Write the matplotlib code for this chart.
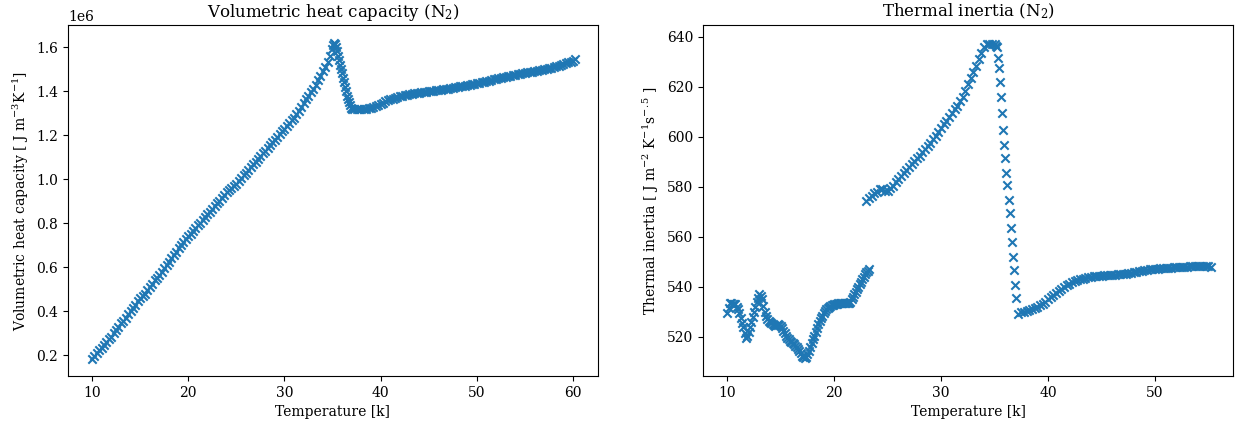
"""Volumetric heat capacity and thermal inertia of solid N2 vs temperature."""
import matplotlib
matplotlib.use("Agg")
import matplotlib.pyplot as plt  # noqa: E402

plt.rcParams["font.family"] = "serif"
plt.rcParams["font.serif"] = ["DejaVu Serif"]
plt.rcParams["mathtext.fontset"] = "dejavuserif"

# volumetric heat capacity [1e6 J m^-3 K^-1]
temp_vhc = [
    10.0, 10.25, 10.5, 10.75, 11.0, 11.25, 11.5, 11.75, 12.0, 12.25,
    12.5, 12.75, 13.0, 13.25, 13.5, 13.75, 14.0, 14.25, 14.5, 14.75,
    15.0, 15.25, 15.5, 15.75, 16.0, 16.25, 16.5, 16.75, 17.0, 17.25,
    17.5, 17.75, 18.0, 18.25, 18.5, 18.75, 19.0, 19.25, 19.5, 19.75,
    20.0, 20.25, 20.5, 20.75, 21.0, 21.25, 21.5, 21.75, 22.0, 22.25,
    22.5, 22.75, 23.0, 23.25, 23.5, 23.75, 24.0, 24.25, 24.5, 24.75,
    25.0, 25.25, 25.5, 25.75, 26.0, 26.25, 26.5, 26.75, 27.0, 27.25,
    27.5, 27.75, 28.0, 28.25, 28.5, 28.75, 29.0, 29.25, 29.5, 29.75,
    30.0, 30.25, 30.5, 30.75, 31.0, 31.25, 31.5, 31.75, 32.0, 32.25,
    32.5, 32.75, 33.0, 33.25, 33.5, 33.75, 34.0, 34.25, 34.5, 34.75,
    35.0, 35.1, 35.2, 35.3, 35.4, 35.5, 35.6, 35.7, 35.8, 35.9,
    36.0, 36.1, 36.2, 36.3, 36.4, 36.5, 36.6, 36.7, 36.8, 36.9,
    37.0, 37.25, 37.5, 37.75, 38.0, 38.25, 38.5, 38.75, 39.0, 39.25,
    39.5, 39.75, 40.0, 40.25, 40.5, 40.75, 41.0, 41.25, 41.5, 41.75,
    42.0, 42.25, 42.5, 42.75, 43.0, 43.25, 43.5, 43.75, 44.0, 44.25,
    44.5, 44.75, 45.0, 45.25, 45.5, 45.75, 46.0, 46.25, 46.5, 46.75,
    47.0, 47.25, 47.5, 47.75, 48.0, 48.25, 48.5, 48.75, 49.0, 49.25,
    49.5, 49.75, 50.0, 50.25, 50.5, 50.75, 51.0, 51.25, 51.5, 51.75,
    52.0, 52.25, 52.5, 52.75, 53.0, 53.25, 53.5, 53.75, 54.0, 54.25,
    54.5, 54.75, 55.0, 55.25, 55.5, 55.75, 56.0, 56.25, 56.5, 56.75,
    57.0, 57.25, 57.5, 57.75, 58.0, 58.25, 58.5, 58.75, 59.0, 59.25,
    59.5, 59.75, 60.0, 60.25]
vhc = [
    0.185, 0.197, 0.21, 0.222, 0.235, 0.247, 0.26, 0.272, 0.285, 0.30,
    0.315, 0.33, 0.345, 0.357, 0.37, 0.385, 0.40, 0.415, 0.43, 0.447,
    0.46, 0.47, 0.48, 0.495, 0.51, 0.525, 0.54, 0.552, 0.565, 0.58,
    0.595, 0.61, 0.625, 0.64, 0.655, 0.67, 0.685, 0.70, 0.715, 0.728,
    0.74, 0.752, 0.765, 0.778, 0.79, 0.802, 0.815, 0.828, 0.84, 0.852,
    0.865, 0.878, 0.89, 0.902, 0.915, 0.928, 0.94, 0.95, 0.96, 0.97,
    0.98, 0.992, 1.005, 1.018, 1.03, 1.042, 1.055, 1.068, 1.08, 1.092,
    1.105, 1.118, 1.13, 1.142, 1.155, 1.168, 1.18, 1.192, 1.205, 1.218,
    1.23, 1.242, 1.255, 1.268, 1.28, 1.295, 1.31, 1.328, 1.345, 1.362,
    1.38, 1.395, 1.41, 1.43, 1.45, 1.47, 1.49, 1.51, 1.53, 1.56,
    1.59, 1.61, 1.62, 1.615, 1.60, 1.58, 1.56, 1.54, 1.52, 1.50,
    1.48, 1.46, 1.44, 1.42, 1.40, 1.38, 1.365, 1.35, 1.335, 1.325,
    1.318, 1.318, 1.318, 1.318, 1.318, 1.319, 1.32, 1.322, 1.325, 1.329,
    1.333, 1.338, 1.343, 1.348, 1.353, 1.358, 1.362, 1.366, 1.37, 1.374,
    1.377, 1.38, 1.382, 1.384, 1.386, 1.388, 1.39, 1.392, 1.393, 1.395,
    1.396, 1.398, 1.399, 1.40, 1.402, 1.404, 1.405, 1.407, 1.408, 1.41,
    1.411, 1.413, 1.415, 1.417, 1.419, 1.421, 1.423, 1.425, 1.427, 1.429,
    1.431, 1.433, 1.436, 1.438, 1.441, 1.443, 1.446, 1.448, 1.451, 1.453,
    1.456, 1.458, 1.461, 1.463, 1.466, 1.468, 1.47, 1.472, 1.475, 1.477,
    1.479, 1.481, 1.483, 1.485, 1.487, 1.489, 1.491, 1.493, 1.495, 1.497,
    1.50, 1.502, 1.505, 1.507, 1.51, 1.512, 1.515, 1.518, 1.522, 1.526,
    1.53, 1.533, 1.537, 1.545]

# thermal inertia [J m^-2 K^-1 s^-0.5]
temp_ti = [
    # low-temperature branch
    10.0, 10.125, 10.25, 10.375, 10.5, 10.625, 10.75, 10.875, 11.0, 11.125,
    11.25, 11.375, 11.5, 11.625, 11.75, 11.875, 12.0, 12.125, 12.25, 12.375,
    12.5, 12.625, 12.75, 12.875, 13.0, 13.125, 13.25, 13.375, 13.5, 13.625,
    13.75, 13.875, 14.0, 14.125, 14.25, 14.375, 14.5, 14.625, 14.75, 14.875,
    15.0, 15.125, 15.25, 15.375, 15.5, 15.625, 15.75, 15.875, 16.0, 16.125,
    16.25, 16.375, 16.5, 16.625, 16.75, 16.875, 17.0, 17.125, 17.25, 17.375,
    17.5, 17.625, 17.75, 17.875, 18.0, 18.125, 18.25, 18.375, 18.5, 18.625,
    18.75, 18.875, 19.0, 19.125, 19.25, 19.375, 19.5, 19.625, 19.75, 19.875,
    20.0, 20.125, 20.25, 20.375, 20.5, 20.625, 20.75, 20.875, 21.0, 21.125,
    21.25, 21.375, 21.5, 21.625, 21.75, 21.875, 22.0, 22.125, 22.25, 22.375,
    22.5, 22.625, 22.75, 22.875, 23.0, 23.125, 23.25,
    # upper branch up to the transition
    23.0, 23.25, 23.5, 23.75, 24.0, 24.25, 24.5, 24.75, 25.0, 25.25,
    25.5, 25.75, 26.0, 26.25, 26.5, 26.75, 27.0, 27.25, 27.5, 27.75,
    28.0, 28.25, 28.5, 28.75, 29.0, 29.25, 29.5, 29.75, 30.0, 30.25,
    30.5, 30.75, 31.0, 31.25, 31.5, 31.75, 32.0, 32.25, 32.5, 32.75,
    33.0, 33.25, 33.5, 33.75, 34.0, 34.25, 34.5, 34.75, 35.0, 35.1,
    35.2,
    # drop
    35.3, 35.4, 35.5, 35.6, 35.7, 35.8, 35.9, 36.0, 36.1, 36.2,
    36.3, 36.4, 36.5, 36.6, 36.7, 36.8, 36.9, 37.0,
    # high-temperature branch
    37.2, 37.5, 37.75, 38.0, 38.25, 38.5, 38.75, 39.0, 39.25, 39.5,
    39.75, 40.0, 40.25, 40.5, 40.75, 41.0, 41.25, 41.5, 41.75, 42.0,
    42.25, 42.5, 42.75, 43.0, 43.25, 43.5, 43.75, 44.0, 44.25, 44.5,
    44.75, 45.0, 45.25, 45.5, 45.75, 46.0, 46.25, 46.5, 46.75, 47.0,
    47.25, 47.5, 47.75, 48.0, 48.25, 48.5, 48.75, 49.0, 49.25, 49.5,
    49.75, 50.0, 50.25, 50.5, 50.75, 51.0, 51.25, 51.5, 51.75, 52.0,
    52.25, 52.5, 52.75, 53.0, 53.25, 53.5, 53.75, 54.0, 54.25, 54.5,
    54.75, 55.0, 55.25]
ti = [
    529.5, 531.5, 533.5, 533.5, 533, 533, 533, 532, 531, 529.5,
    527.5, 525.5, 524, 521.5, 519.5, 520.5, 522, 524, 526, 528,
    530, 532, 534, 535.5, 537, 536.5, 535, 532.5, 530, 528.5,
    527, 526.5, 526, 525.5, 525, 524.7, 524.5, 524.8, 525, 524.8,
    524.5, 523.5, 522.5, 521.5, 520.5, 519.7, 519, 518.5, 518, 517.5,
    517, 516.5, 516, 515.3, 514.5, 513.5, 512.5, 512, 511.5, 512,
    513, 514.5, 516, 517.5, 519, 520.5, 522, 523.5, 525, 526.3,
    527.5, 528.5, 529.5, 530.3, 531, 531.5, 532, 532.4, 532.7, 532.9,
    533, 533.2, 533.3, 533.4, 533.5, 533.5, 533.5, 533.5, 533.5, 533.5,
    533.5, 533.7, 534, 535, 536, 537, 538, 539, 540, 541,
    542, 543, 544, 545, 546, 546.5, 547,
    574.5, 575.5, 576.5, 577.5, 578, 579, 579, 578.5, 578.5, 579.5,
    580.5, 581.8, 583, 584.2, 585.5, 586.8, 588, 589.2, 590.5, 591.5,
    592.5, 593.8, 595, 596.2, 597.5, 599, 600.5, 602, 603.5, 605,
    606.5, 608, 609.5, 611, 612.5, 614.2, 616, 618.5, 621, 623.5,
    626, 628.5, 631, 633.5, 636, 637, 637, 637, 637, 636.5,
    636,
    631.5, 627.5, 622, 616, 609.5, 602.8, 596.7, 591.5, 585.5, 580.7,
    574.7, 569.5, 563.5, 557.9, 551.9, 546.7, 540.7, 535.5,
    529.3, 529.8, 530.1, 530.5, 530.8, 531.2, 531.6, 532, 532.6, 533.3,
    534.1, 535, 535.9, 536.8, 537.7, 538.5, 539.3, 540, 540.7, 541.3,
    541.8, 542.3, 542.7, 543, 543.3, 543.6, 543.8, 544, 544.2, 544.3,
    544.4, 544.5, 544.6, 544.7, 544.8, 544.8, 544.9, 545, 545.1, 545.2,
    545.3, 545.5, 545.6, 545.8, 546, 546.2, 546.4, 546.6, 546.8, 547,
    547.1, 547.2, 547.3, 547.4, 547.5, 547.6, 547.6, 547.7, 547.8, 547.8,
    547.9, 548, 548, 548.1, 548.2, 548.2, 548.3, 548.3, 548.4, 548.4,
    548.4, 548.4, 548]

assert len(temp_vhc) == len(vhc) and len(temp_ti) == len(ti)

fig = plt.figure(figsize=(12.36, 4.25), dpi=100)
ax1 = fig.add_axes([0.055, 0.115, 0.4288, 0.826])
ax2 = fig.add_axes([0.5688, 0.115, 0.4288, 0.826])

ax1.scatter(temp_vhc, [v * 1e6 for v in vhc], marker="x", color="C0")
ax1.set_title("Volumetric heat capacity (N$_2$)", fontsize=12)
ax1.set_xlabel("Temperature [k]")
ax1.set_ylabel("Volumetric heat capacity [ J m$^{-3}$K$^{-1}$]")
ax1.set_xlim(7.5, 62.6)
ax1.set_ylim(0.105e6, 1.70e6)

ax2.scatter(temp_ti, ti, marker="x", color="C0")
ax2.set_title("Thermal inertia (N$_2$)", fontsize=12)
ax2.set_xlabel("Temperature [k]")
ax2.set_ylabel("Thermal inertia [ J m$^{-2}$ K$^{-1}$s$^{-.5}$ ]")
ax2.set_xlim(7.73, 57.3)
ax2.set_ylim(504.3, 644.7)

fig.savefig("out.png", dpi=100)
plt.close(fig)
